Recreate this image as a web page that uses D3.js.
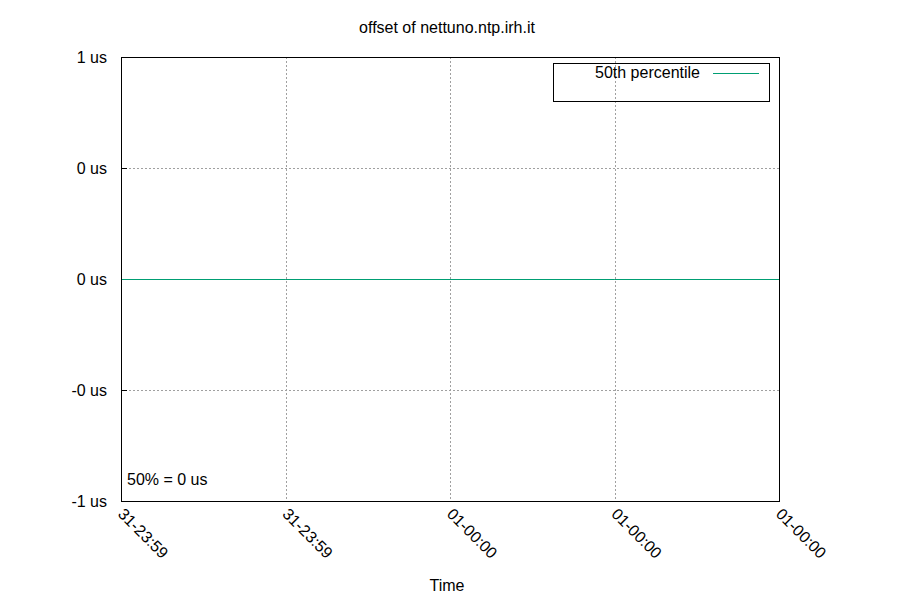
<!DOCTYPE html>
<html>
<head>
<meta charset="utf-8">
<script src="https://cdn.jsdelivr.net/npm/d3@7"></script>
<style>
  body { margin: 0; background: #fff; }
  text { font-family: "Liberation Sans", Arial, sans-serif; fill: #000; }
</style>
</head>
<body>
<svg id="chart"></svg>
<script>
  // seconds around midnight
  let times = [0, 1, 2, 3, 4];
  let p50 = [0, 0, 0, 0, 0];
  let xTickLabels = ["31-23:59", "31-23:59", "01-00:00", "01-00:00", "01-00:00"];
  let yTicks = [-1, -0.5, 0, 0.5, 1];
  let yTickLabels = ["-1 us", "-0 us", "0 us", "0 us", "1 us"];

  let width = 900, height = 600;
  let plotLeft = 121, plotRight = 779, plotTop = 57, plotBottom = 501;
  let fs = 16;

  let svg = d3.select("#chart").attr("width", width).attr("height", height);

  let x = d3.scaleLinear().domain([0, 4]).range([plotLeft, plotRight]);
  let y = d3.scaleLinear().domain([-1, 1]).range([plotBottom, plotTop]);

  // grid
  let grid = svg.append("g").attr("stroke", "#a0a0a0").attr("stroke-dasharray", "2,2").attr("stroke-width", 1);
  grid.selectAll("line.gx").data(times.slice(1, -1)).enter().append("line")
      .attr("x1", d => Math.round(x(d)) + 0.5).attr("x2", d => Math.round(x(d)) + 0.5)
      .attr("y1", plotTop).attr("y2", plotBottom);
  grid.selectAll("line.gy").data(yTicks.slice(1, -1)).enter().append("line")
      .attr("x1", plotLeft).attr("x2", plotRight)
      .attr("y1", d => Math.round(y(d)) + 0.5).attr("y2", d => Math.round(y(d)) + 0.5);

  // y ticks + labels
  svg.append("g").selectAll("line").data(yTicks).enter().append("line")
      .attr("x1", plotLeft).attr("x2", plotLeft + 6)
      .attr("y1", d => Math.round(y(d)) + 0.5).attr("y2", d => Math.round(y(d)) + 0.5)
      .attr("stroke", "#000");
  svg.append("g").selectAll("text").data(yTicks).enter().append("text")
      .attr("x", 107).attr("y", d => y(d) + 5.5)
      .attr("text-anchor", "end").attr("font-size", fs)
      .text((d, i) => yTickLabels[i]);

  // x labels rotated
  svg.append("g").selectAll("text").data(times).enter().append("text")
      .attr("transform", d => "translate(" + (x(d) - 4) + "," + 515 + ") rotate(45)")
      .attr("text-anchor", "start").attr("font-size", fs)
      .text((d, i) => xTickLabels[i]);

  // data line
  let line = d3.line().x((d, i) => x(times[i])).y(d => Math.round(y(d)) + 0.5);
  svg.append("path").datum(p50)
      .attr("d", line).attr("fill", "none")
      .attr("stroke", "#009e73").attr("stroke-width", 1);

  // border
  svg.append("rect")
      .attr("x", plotLeft + 0.5).attr("y", plotTop + 0.5)
      .attr("width", plotRight - plotLeft).attr("height", plotBottom - plotTop)
      .attr("fill", "none").attr("stroke", "#000");

  // legend
  svg.append("rect")
      .attr("x", 553.5).attr("y", 63.5).attr("width", 216).attr("height", 38)
      .attr("fill", "none").attr("stroke", "#000");
  svg.append("text").attr("x", 700).attr("y", 78)
      .attr("text-anchor", "end").attr("font-size", fs).text("50th percentile");
  svg.append("line").attr("x1", 713).attr("x2", 759).attr("y1", 73.5).attr("y2", 73.5)
      .attr("stroke", "#009e73");

  // annotation
  svg.append("text").attr("x", 127).attr("y", 485).attr("font-size", fs).text("50% = 0 us");

  // titles
  svg.append("text").attr("x", 447).attr("y", 33).attr("text-anchor", "middle")
      .attr("font-size", fs).text("offset of nettuno.ntp.irh.it");
  svg.append("text").attr("x", 447).attr("y", 591).attr("text-anchor", "middle")
      .attr("font-size", fs).text("Time");
</script>
</body>
</html>
